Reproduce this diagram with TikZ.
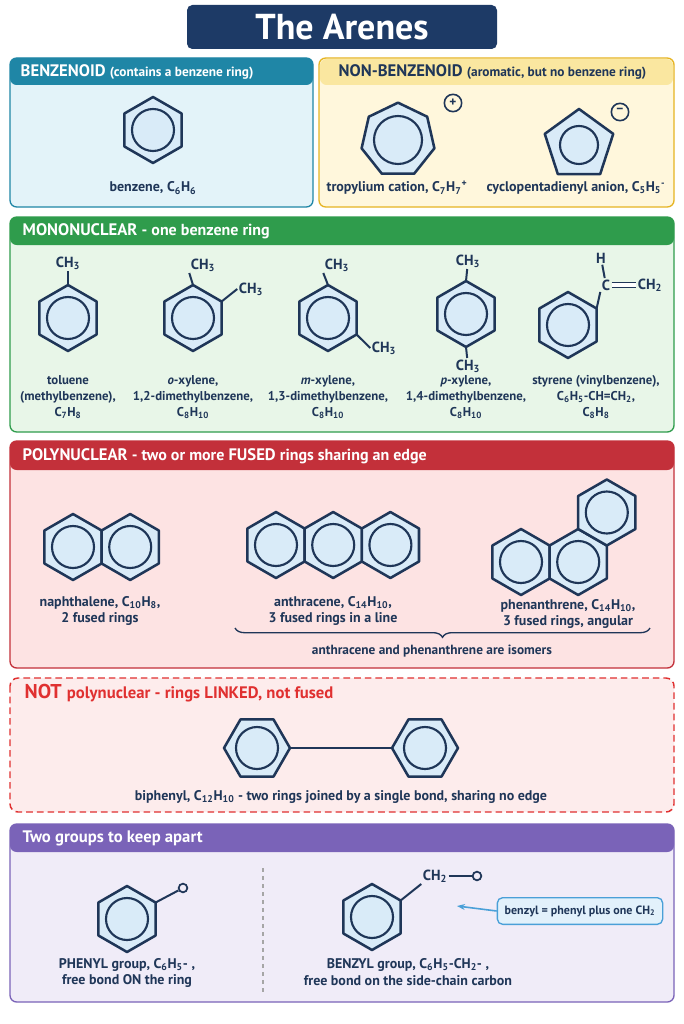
\documentclass[tikz,border=0pt]{standalone}
\usepackage{fontspec}
\setmainfont{PT Sans}
\usetikzlibrary{shapes.geometric,decorations.pathreplacing,arrows.meta}
\definecolor{navy}{HTML}{1F3658}
\definecolor{ringfill}{HTML}{D9EBF8}
\definecolor{titlebg}{HTML}{1D3A66}
\definecolor{tealH}{HTML}{1F86A6}\definecolor{tealB}{HTML}{E3F3F9}
\definecolor{yelH}{HTML}{FAE7A0}\definecolor{yelB}{HTML}{FFF7DC}\definecolor{yelE}{HTML}{E6B422}
\definecolor{grnH}{HTML}{2F9C4C}\definecolor{grnB}{HTML}{E8F6E8}
\definecolor{redH}{HTML}{C3303A}\definecolor{redB}{HTML}{FDE3E3}
\definecolor{notE}{HTML}{E03030}\definecolor{notB}{HTML}{FDECEC}
\definecolor{purH}{HTML}{7A63B8}\definecolor{purB}{HTML}{F0ECF8}
\definecolor{callE}{HTML}{4AA0D8}\definecolor{callB}{HTML}{E2F1FB}
\newcommand{\lo}[1]{\textsubscript{#1}}
\newcommand{\hi}[1]{\textsuperscript{#1}}
\tikzset{
 ring/.style={draw=navy,line width=1.9pt,fill=ringfill,line join=round},
 circ/.style={draw=navy,line width=1.6pt},
 bond/.style={draw=navy,line width=1.5pt},
 lab/.style={text=navy,font=\bfseries\fontsize{10.5}{12.5}\selectfont,align=center},
 mlab/.style={lab,font=\bfseries\fontsize{9.6}{12}\selectfont},
 glab/.style={lab,font=\bfseries\fontsize{10.5}{12.5}\selectfont},
 grp/.style={text=navy,font=\bfseries\fontsize{11}{13}\selectfont,inner sep=1pt},
 hdr/.style={font=\bfseries\fontsize{12.5}{14}\selectfont,anchor=west},
 hexP/.pic={\path[ring] (0,-33)--(28.6,-16.5)--(28.6,16.5)--(0,33)--(-28.6,16.5)--(-28.6,-16.5)--cycle;
   \draw[circ] (0,0) circle[radius=21];},
 hexF/.pic={\path[ring] (33,0)--(16.5,28.6)--(-16.5,28.6)--(-33,0)--(-16.5,-28.6)--(16.5,-28.6)--cycle;
   \draw[circ] (0,0) circle[radius=21];},
}
\begin{document}
\begin{tikzpicture}[x=0.75pt,y=-0.75pt]
\useasboundingbox (0,0) rectangle (683,1024);
\fill[white] (0,0) rectangle (683,1024);
% title
\node[fill=titlebg,rounded corners=4pt,minimum width=232.5pt,minimum height=33pt,text=white,font=\bfseries\fontsize{27}{29}\selectfont] (title) at (342,27) {The Arenes};
% benzenoid
\draw[tealH,line width=1pt,fill=tealB,rounded corners=5pt] (10,58) rectangle (313,207);
\fill[tealH,rounded corners=5pt] (10,58) rectangle (313,85);
\node[hdr,text=white] (hb) at (16,72) {BENZENOID \fontsize{10}{12}\selectfont(contains a benzene ring)};
\pic at (153,130) {hexP};
\node[lab] (benz) at (153,188) {benzene, C\lo6H\lo6};
% non-benzenoid
\draw[yelE,line width=1pt,fill=yelB,rounded corners=5pt] (319,58) rectangle (674,207);
\fill[yelH,rounded corners=5pt] (320,59) rectangle (673,85);
\node[hdr,text=navy] (hn) at (334,72) {NON-BENZENOID \fontsize{10}{12}\selectfont(aromatic, but no benzene ring)};
\node[regular polygon,regular polygon sides=7,minimum size=56pt,ring] (trop) at (398,140) {};
\draw[circ] (trop.center) circle[radius=24];
\node[circle,draw=navy,line width=1.2pt,inner sep=0pt,minimum size=13pt,text=navy,font=\bfseries] (plus) at (453,103) {+};
\node[lab] (tropl) at (397,188) {tropylium cation, C\lo7H\lo7\hi+};
\node[regular polygon,regular polygon sides=5,minimum size=54pt,ring] (cp) at (579,145) {};
\draw[circ] (cp.center) circle[radius=19];
\node[circle,draw=navy,line width=1.2pt,inner sep=0pt,minimum size=13pt,text=navy,font=\bfseries] (minus) at (620,112) {\raisebox{1pt}{−}};
\node[lab] (cpl) at (576,188) {cyclopentadienyl anion, C\lo5H\lo5\hi-};
% mononuclear
\draw[grnH,line width=1pt,fill=grnB,rounded corners=5pt] (10,217) rectangle (674,432);
\fill[grnH,rounded corners=5pt] (10,217) rectangle (674,245);
\node[hdr,text=white] (hm) at (18,231) {MONONUCLEAR \fontsize{12}{14}\selectfont- one benzene ring};
% toluene
\pic at (68,318) {hexP};
\node[grp] (t1) at (68,263) {CH\lo3};
\coordinate (tv) at (68,285); \draw[bond] (tv) -- (t1);
\node[mlab] (tl) at (68,397) {toluene\\(methylbenzene),\\C\lo7H\lo8};
% o-xylene
\pic at (193,318) {hexP};
\node[grp] (o1) at (203,265) {CH\lo3};
\node[grp] (o2) at (251,289) {CH\lo3};
\coordinate (ov1) at (193,285); \coordinate (ov2) at (221.6,301.5);
\draw[bond] (ov1) -- (o1.south west); \draw[bond] (ov2) -- (o2.west);
\node[mlab] (ol) at (193,397) {\itshape o\upshape-xylene,\\1,2-dimethylbenzene,\\C\lo8H\lo{10}};
% m-xylene
\pic at (328,318) {hexP};
\node[grp] (m1) at (337,265) {CH\lo3};
\node[grp] (m2) at (384,348) {CH\lo3};
\coordinate (mv1) at (328,285); \coordinate (mv2) at (356.6,334.5);
\draw[bond] (mv1) -- (m1.south west); \draw[bond] (mv2) -- (m2.west);
\node[mlab] (ml) at (328,397) {\itshape m\upshape-xylene,\\1,3-dimethylbenzene,\\C\lo8H\lo{10}};
% p-xylene
\pic at (466,314) {hexP};
\node[grp] (p1) at (468,261) {CH\lo3};
\node[grp] (p2) at (468,366) {CH\lo3};
\coordinate (pv1) at (466,281); \coordinate (pv2) at (466,347);
\draw[bond] (pv1) -- (p1); \draw[bond] (pv2) -- (p2);
\node[mlab] (pl) at (466,397) {\itshape p\upshape-xylene,\\1,4-dimethylbenzene,\\C\lo8H\lo{10}};
% styrene
\pic at (568,325) {hexP};
\node[grp] (sh) at (601,258) {H};
\node[grp] (sc) at (606,285) {C};
\node[grp] (sch) at (650,285) {CH\lo2};
\coordinate (sv) at (596.6,308.5);
\draw[bond] (sv) -- (sc.south west); \draw[bond] (sh) -- (sc);
\draw[bond,double,double distance=2.5pt,line width=1.2pt] (sc.east) -- (sch.west);
\node[mlab] (sl) at (596,397) {styrene (vinylbenzene),\\C\lo6H\lo5-CH=CH\lo2,\\C\lo8H\lo8};
% polynuclear
\draw[redH,line width=1pt,fill=redB,rounded corners=5pt] (10,441) rectangle (674,668);
\fill[redH,rounded corners=5pt] (10,441) rectangle (674,470);
\node[hdr,text=white] (hp) at (18,456) {POLYNUCLEAR \fontsize{12}{14}\selectfont- two or more \fontsize{12.5}{14}\selectfont FUSED \fontsize{12}{14}\selectfont rings sharing an edge};
\pic at (73,547) {hexP}; \pic at (130.2,547) {hexP};
\node[lab] (nl) at (100,611) {naphthalene, C\lo{10}H\lo8,\\2 fused rings};
\pic at (276,545) {hexP}; \pic at (333.2,545) {hexP}; \pic at (390.4,545) {hexP};
\node[lab] (al) at (333,611) {anthracene, C\lo{14}H\lo{10},\\3 fused rings in a line};
\pic at (521,562) {hexP}; \pic at (578.2,562) {hexP}; \pic at (606.8,512.5) {hexP};
\node[lab] (phl) at (568,614) {phenanthrene, C\lo{14}H\lo{10},\\3 fused rings, angular};
\coordinate (br1) at (235,628); \coordinate (br2) at (650,628);
\draw[navy,line width=1pt,decorate,decoration={brace,mirror,amplitude=7pt}] (br1) -- (br2);
\node[lab,font=\bfseries\fontsize{10}{12}\selectfont] (iso) at (432,651) {anthracene and phenanthrene are isomers};
% not polynuclear
\draw[notE,line width=1.1pt,fill=notB,rounded corners=6pt,dash pattern=on 5pt off 3pt] (10,678) rectangle (674,812);
\node[hdr,text=notE] (hnot) at (20,693) {\fontsize{15}{17}\selectfont NOT \fontsize{12.5}{14}\selectfont polynuclear - rings LINKED, not fused};
\pic at (257,748) {hexF}; \pic at (425,748) {hexF};
\coordinate (bb1) at (290,748); \coordinate (bb2) at (392,748);
\draw[bond] (bb1) -- (bb2);
\node[lab] (bl) at (341,797) {biphenyl, C\lo{12}H\lo{10} - two rings joined by a single bond, sharing no edge};
% two groups
\draw[purH,line width=1pt,fill=purB,rounded corners=5pt] (10,824) rectangle (674,1002);
\fill[purH,rounded corners=5pt] (10,824) rectangle (674,852);
\node[hdr,text=white] (hg) at (18,838) {Two groups to keep apart};
\pic at (127,919) {hexP};
\coordinate (phv) at (155.6,902.5);
\node[circle,draw=navy,line width=1.3pt,inner sep=0pt,minimum size=6.5pt] (phO) at (183,888) {};
\draw[bond] (phv) -- (phO);
\node[glab] (phl2) at (127,973) {PHENYL group, C\lo6H\lo5- ,\\free bond ON the ring};
\coordinate (d1) at (263,868); \coordinate (d2) at (263,992);
\draw[gray!70,line width=0.8pt,dashed] (d1) -- (d2);
\pic at (372,917) {hexP};
\coordinate (bzv) at (400.6,900.5);
\node[grp] (bch) at (435,876) {CH\lo2};
\node[circle,draw=navy,line width=1.3pt,inner sep=0pt,minimum size=6.5pt] (bzO) at (477,876) {};
\draw[bond] (bzv) -- (bch.south west); \draw[bond] (bch.east) -- (bzO);
\node[glab] (bzl) at (408,972) {BENZYL group, C\lo6H\lo5-CH\lo2- ,\\free bond on the side-chain carbon};
\node[draw=callE,fill=callB,line width=1pt,rounded corners=4pt,minimum width=124pt,minimum height=20pt,text=navy,font=\bfseries\fontsize{9}{11}\selectfont] (call) at (580,911) {benzyl = phenyl plus one CH\lo2};
\coordinate (arr) at (457,906);
\draw[callE,line width=1.2pt,-{Stealth[length=6pt]}] (call.west) -- (arr);
\end{tikzpicture}
\end{document}
